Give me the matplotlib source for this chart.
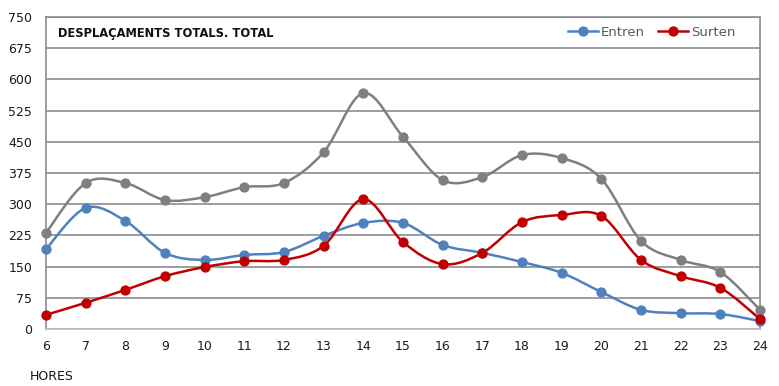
import matplotlib
matplotlib.use("Agg")
import matplotlib.pyplot as plt
import numpy as np
from matplotlib.path import Path
from matplotlib.patches import PathPatch
from matplotlib.lines import Line2D

hores = [6, 7, 8, 9, 10, 11, 12, 13, 14, 15, 16, 17, 18, 19, 20, 21, 22, 23, 24]
entren = [192, 291, 260, 183, 166, 178, 185, 224, 255, 255, 202, 183, 161,
          135, 89, 46, 38, 36, 19]
surten = [34, 63, 94, 127, 149, 163, 166, 200, 312, 209, 156, 183, 257,
          274, 272, 166, 127, 99, 24]
total = [231, 351, 351, 310, 317, 341, 351, 425, 567, 462, 358, 365, 418,
         411, 361, 212, 166, 137, 46]
y_ticks = [0, 75, 150, 225, 300, 375, 450, 525, 600, 675, 750]

BLUE = "#4F81BD"
RED = "#C00000"
GREY = "#7F7F7F"
GRID = "#8C8C8C"


def smooth_path(x, y):
    # Catmull-Rom style bezier, like a spreadsheet "smoothed line"
    pts = np.column_stack([x, y]).astype(float)
    n = len(pts)
    verts = [pts[0]]
    codes = [Path.MOVETO]
    for i in range(n - 1):
        p0 = pts[max(i - 1, 0)]
        p1 = pts[i]
        p2 = pts[i + 1]
        p3 = pts[min(i + 2, n - 1)]
        c1 = p1 + (p2 - p0) / 6.0
        c2 = p2 - (p3 - p1) / 6.0
        verts += [c1, c2, p2]
        codes += [Path.CURVE4] * 3
    return Path(verts, codes)


def draw_series(ax, x, y, color):
    ax.add_patch(PathPatch(smooth_path(x, y), facecolor="none",
                           edgecolor=color, lw=1.8, zorder=3,
                           capstyle="round", joinstyle="round"))
    ax.plot(x, y, linestyle="none", marker="o", ms=6.4, color=color,
            zorder=4, clip_on=False)


fig = plt.figure(figsize=(7.79, 3.86), dpi=100)
ax = fig.add_axes([46 / 779, 1 - 329 / 386, (760 - 46) / 779, (329 - 17) / 386])

draw_series(ax, hores, total, GREY)
draw_series(ax, hores, entren, BLUE)
draw_series(ax, hores, surten, RED)

ax.set_xlim(6, 24)
ax.set_ylim(0, 750)
ax.set_xticks(hores)
ax.set_yticks(y_ticks)
ax.tick_params(length=0, labelsize=9, colors="#1a1a1a")
ax.tick_params(axis="x", pad=8)
ax.tick_params(axis="y", pad=10)
ax.grid(axis="y", color=GRID, lw=1.2)
ax.set_axisbelow(True)
for side in ["top", "right", "left"]:
    ax.spines[side].set_color(GRID)
    ax.spines[side].set_linewidth(1.2)
ax.spines["bottom"].set_color("#BFBFBF")
ax.spines["bottom"].set_linewidth(1.2)

ax.text(0.017, 0.947, "DESPLAÇAMENTS TOTALS. TOTAL", transform=ax.transAxes,
        fontsize=8.3, fontweight="bold", color="#111111", va="center")
fig.text(30 / 779, 1 - 377 / 386, "HORES", fontsize=9, color="#111111",
         va="center")

handles = [Line2D([], [], color=BLUE, lw=1.8, marker="o", ms=6.4),
           Line2D([], [], color=RED, lw=1.8, marker="o", ms=6.4)]
ax.legend(handles, ["Entren", "Surten"], loc="upper right", ncol=2,
          frameon=False, fontsize=9.5, labelcolor="#595959",
          bbox_to_anchor=(0.982, 1.01), handlelength=2.3, handletextpad=0.2,
          columnspacing=1.0)

fig.savefig("out.png", dpi=100)
